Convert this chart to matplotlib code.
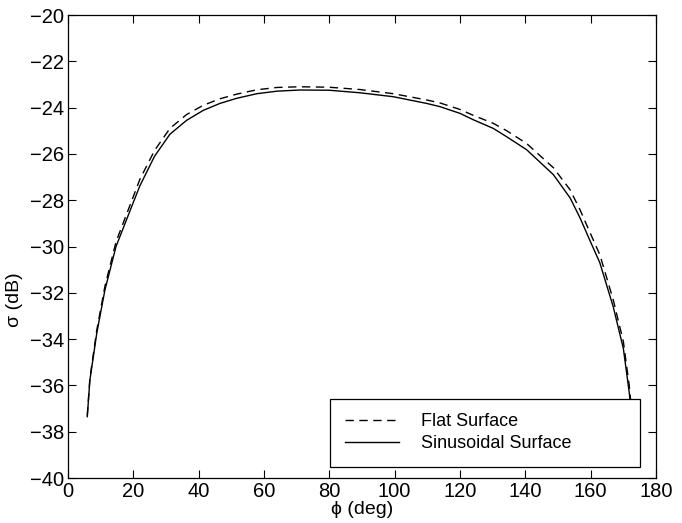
import matplotlib
matplotlib.use("Agg")
import matplotlib.pyplot as plt

# Data
phi_sin = [5.9, 6.7, 8.8, 11.3, 14.7, 19.7, 22.0, 26.5, 31.2, 36.3, 41.4, 46.5,
           51.6, 57.8, 64.0, 71.0, 80.0, 89.4, 99.6, 109.8, 113.9, 120.0, 124.0,
           130.2, 134.3, 140.4, 148.6, 153.7, 156.7, 159.8, 162.8, 166.9, 170.0,
           171.8, 172.6]
sigma_sin = [-37.35, -35.77, -33.75, -31.88, -30.0, -28.2, -27.38, -26.1, -25.15,
             -24.55, -24.12, -23.82, -23.6, -23.4, -23.29, -23.24, -23.25, -23.36,
             -23.53, -23.82, -23.96, -24.25, -24.52, -24.9, -25.26, -25.82, -26.9,
             -27.9, -28.75, -29.75, -30.7, -32.6, -34.4, -36.3, -37.4]

phi_flat = [5.9, 6.7, 8.8, 11.3, 14.7, 19.7, 22.0, 26.5, 31.2, 36.3, 41.4, 46.5,
            51.6, 57.8, 64.0, 71.0, 80.0, 89.4, 99.6, 109.8, 113.9, 120.0, 124.0,
            130.2, 134.3, 140.4, 148.6, 153.7, 156.7, 159.8, 162.8, 166.9, 170.0,
            171.8, 172.6]
sigma_flat = [-37.3, -35.7, -33.62, -31.72, -29.8, -27.95, -27.1, -25.85, -24.9,
              -24.3, -23.9, -23.62, -23.42, -23.23, -23.13, -23.1, -23.12, -23.22,
              -23.4, -23.67, -23.8, -24.08, -24.33, -24.68, -25.0, -25.55, -26.6,
              -27.55, -28.4, -29.4, -30.35, -32.3, -34.1, -36.0, -37.2]

xticks = [0, 20, 40, 60, 80, 100, 120, 140, 160, 180]
yticks = [-40, -38, -36, -34, -32, -30, -28, -26, -24, -22, -20]

plt.rcParams['font.family'] = ['Liberation Sans', 'DejaVu Sans']

fig = plt.figure(figsize=(6.82, 5.23), dpi=100)
ax = fig.add_axes([68/682, 1-478/523, (656-68)/682, (478-15)/523])

ax.plot(phi_flat, sigma_flat, color='black', linestyle=(0, (6, 4)), linewidth=1.0,
        label='Flat Surface')
ax.plot(phi_sin, sigma_sin, color='black', linestyle='-', linewidth=1.0,
        label='Sinusoidal Surface')

ax.set_xlim(0, 180)
ax.set_ylim(-40, -20)
ax.set_xticks(xticks)
ax.set_yticks(yticks)
ax.set_yticklabels([str(t).replace('-', '\u2212') for t in yticks])
ax.tick_params(direction='in', length=6, width=0.8, top=True, right=True,
               labelsize=14.5, pad=3)
for s in ax.spines.values():
    s.set_linewidth(0.9)

ax.set_xlabel('\u03d5 (deg)', fontsize=14, labelpad=0)
ax.set_ylabel('\u03c3 (dB)', fontsize=14, labelpad=2)
ax.yaxis.set_label_coords(-0.077, 0.385)

leg = ax.legend(loc='lower left', bbox_to_anchor=(0.446, 0.024, 0.527, 0.155),
                mode='expand', fontsize=13, frameon=True, fancybox=False,
                edgecolor='black', framealpha=1, handlelength=3.0,
                handletextpad=1.2, borderpad=0.8, labelspacing=0.3,
                borderaxespad=0)
leg.get_frame().set_linewidth(0.9)

fig.savefig('out.png', dpi=100)
